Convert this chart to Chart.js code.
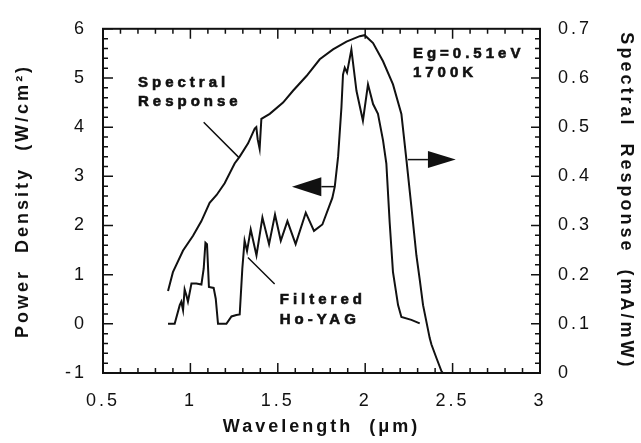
<!DOCTYPE html>
<html>
<head>
<meta charset="utf-8">
<script src="https://cdn.jsdelivr.net/npm/chart.js@4.4.1/dist/chart.umd.min.js"></script>
<style>
  html, body { margin: 0; padding: 0; background: #fff; }
  canvas { display: block; }
</style>
</head>
<body>
<canvas id="plot" width="641" height="443"></canvas>
<script>
const FONT = "'Liberation Sans', Arial, Helvetica, sans-serif";
const INK = "#111";

// axis ticks
const xTicks = [0.5, 1, 1.5, 2, 2.5, 3];
const powerTicks = [-1, 0, 1, 2, 3, 4, 5, 6];
const responseTicks = [0, 0.1, 0.2, 0.3, 0.4, 0.5, 0.6, 0.7];

// filtered Ho-YAG emitter: wavelength (um) / power density (W/cm2)
const hoWavelength = [0.872, 0.91, 0.939, 0.948, 0.958, 0.967, 0.977, 0.986, 1.006, 1.034, 1.063, 1.076, 1.086, 1.095,
  1.106, 1.133, 1.145, 1.158, 1.206, 1.235, 1.263, 1.282, 1.297, 1.31, 1.324, 1.345, 1.378, 1.412, 1.45, 1.484,
  1.517, 1.555, 1.602, 1.66, 1.707, 1.755, 1.812, 1.826, 1.845, 1.864, 1.873, 1.883, 1.896, 1.921, 1.95, 1.987,
  2.016, 2.045, 2.073, 2.102, 2.121, 2.14, 2.159, 2.188, 2.207, 2.264, 2.312];
const hoPower = [0.0, 0.0, 0.38, 0.45, 0.28, 0.70, 0.58, 0.45, 0.82, 0.82, 0.80, 1.12, 1.65, 1.62,
  0.75, 0.73, 0.51, 0.0, 0.0, 0.15, 0.18, 0.19, 1.12, 1.69, 1.48, 1.92, 1.39, 2.16, 1.62, 2.22,
  1.69, 2.09, 1.62, 2.26, 1.89, 2.02, 2.56, 2.79, 3.40, 4.40, 5.07, 5.21, 5.11, 5.58, 4.74, 4.13,
  4.87, 4.47, 4.27, 3.73, 3.26, 2.06, 1.05, 0.38, 0.14, 0.08, 0.01];

// cell spectral response: wavelength (um) / response (mA/mW)
const srWavelength = [0.872, 0.9, 0.958, 1.015, 1.063, 1.11, 1.15, 1.196, 1.253, 1.282, 1.33, 1.368, 1.377, 1.385,
  1.396, 1.406, 1.454, 1.53, 1.587, 1.664, 1.74, 1.816, 1.893, 1.969, 1.997, 2.045, 2.102, 2.159, 2.207, 2.236,
  2.264, 2.293, 2.312, 2.331, 2.369, 2.379, 2.407, 2.436, 2.445, 2.51];
const srResponse = [0.167, 0.205, 0.249, 0.279, 0.309, 0.346, 0.362, 0.386, 0.426, 0.44, 0.467, 0.497, 0.50, 0.475,
  0.456, 0.517, 0.527, 0.55, 0.574, 0.604, 0.638, 0.658, 0.674, 0.685, 0.687, 0.671, 0.634, 0.587, 0.527, 0.433,
  0.339, 0.239, 0.19, 0.138, 0.071, 0.058, 0.031, 0.004, 0.0, 0.0];

const toPoints = (xs, ys) => xs.map((x, i) => ({ x, y: ys[i] }));

// frame, inward ticks, labels and arrows
const decor = {
  id: "decor",
  beforeDraw(chart) {
    chart.ctx.letterSpacing = "3px";
  },
  afterDatasetsDraw(chart) {
    const ctx = chart.ctx;
    const { left, top, right, bottom } = chart.chartArea;
    const sx = chart.scales.x, sy = chart.scales.y, sr = chart.scales.y1;
    const X = (v) => sx.getPixelForValue(v);
    const Y = (v) => sy.getPixelForValue(v);

    ctx.save();
    ctx.strokeStyle = INK;
    ctx.fillStyle = INK;
    ctx.lineWidth = 2;
    ctx.strokeRect(left, top, right - left, bottom - top);

    ctx.lineWidth = 1.5;
    ctx.beginPath();
    for (let i = 0; i <= 25; i++) {
      const p = X(0.5 + i * 0.1);
      const len = i % 5 === 0 ? 10 : 5;
      ctx.moveTo(p, bottom); ctx.lineTo(p, bottom - len);
      ctx.moveTo(p, top); ctx.lineTo(p, top + len);
    }
    for (let i = 0; i <= 35; i++) {
      const p = Y(-1 + i * 0.2);
      const len = i % 5 === 0 ? 10 : 5;
      ctx.moveTo(left, p); ctx.lineTo(left + len, p);
    }
    for (let i = 0; i <= 35; i++) {
      const p = sr.getPixelForValue(i * 0.02);
      const len = i % 5 === 0 ? 9 : 5;
      ctx.moveTo(right, p); ctx.lineTo(right - len, p);
    }
    ctx.stroke();

    // leader lines
    ctx.beginPath();
    ctx.moveTo(X(1.076), Y(4.10)); ctx.lineTo(X(1.278), Y(3.38));
    ctx.moveTo(X(1.329), Y(1.35)); ctx.lineTo(X(1.482), Y(0.81));
    ctx.stroke();

    // axis arrows
    const arrow = (x0, xBase, xTip, yv, half) => {
      const yp = Y(yv);
      ctx.beginPath();
      ctx.moveTo(X(x0), yp); ctx.lineTo(X(xBase), yp);
      ctx.stroke();
      ctx.beginPath();
      ctx.moveTo(X(xBase), yp - half);
      ctx.lineTo(X(xTip), yp);
      ctx.lineTo(X(xBase), yp + half);
      ctx.closePath();
      ctx.fill();
    };
    arrow(1.826, 1.749, 1.581, 2.79, 9.5);
    arrow(2.245, 2.359, 2.518, 3.34, 8.5);

    // text labels, lightly stroked for a heavier bold
    ctx.font = "bold 15px " + FONT;
    ctx.letterSpacing = "4px";
    ctx.textAlign = "left";
    ctx.textBaseline = "middle";
    ctx.lineWidth = 0.6;
    const label = (s, x, y) => {
      ctx.fillText(s, X(x), Y(y));
      ctx.strokeText(s, X(x), Y(y));
    };
    label("Spectral", 0.70, 4.91);
    label("Response", 0.70, 4.51);
    label("Eg=0.51eV", 2.273, 5.50);
    label("1700K", 2.273, 5.11);
    label("Filtered", 1.511, 0.48);
    label("Ho-YAG", 1.511, 0.08);
    ctx.restore();
  }
};

const tickFont = { family: FONT, size: 18 };
const titleFont = { family: FONT, size: 18, weight: "bold" };

new Chart(document.getElementById("plot"), {
  type: "scatter",
  data: {
    datasets: [
      {
        label: "Filtered Ho-YAG",
        data: toPoints(hoWavelength, hoPower),
        yAxisID: "y",
        showLine: true,
        borderColor: INK,
        borderWidth: 2,
        pointRadius: 0,
        tension: 0
      },
      {
        label: "Spectral Response",
        data: toPoints(srWavelength, srResponse),
        yAxisID: "y1",
        showLine: true,
        borderColor: INK,
        borderWidth: 2,
        pointRadius: 0,
        tension: 0
      }
    ]
  },
  options: {
    responsive: false,
    animation: false,
    layout: { padding: { top: 24, left: 0, right: 0, bottom: 0 } },
    plugins: { legend: { display: false }, tooltip: { enabled: false } },
    scales: {
      x: {
        type: "linear",
        min: 0.5,
        max: 3,
        grid: { display: false, drawTicks: false },
        border: { display: false },
        afterBuildTicks: (s) => { s.ticks = xTicks.map((v) => ({ value: v })); },
        afterFit: (s) => { s.height = 70; },
        ticks: { color: INK, font: tickFont, padding: 17, maxRotation: 0, autoSkip: false, callback: (v) => String(v) },
        title: { display: true, text: "Wavelength  (\u03bcm)", color: INK, font: titleFont, padding: { top: 0, bottom: 5 } }
      },
      y: {
        position: "left",
        min: -1,
        max: 6,
        grid: { display: false, drawTicks: false },
        border: { display: false },
        afterBuildTicks: (s) => { s.ticks = powerTicks.map((v) => ({ value: v })); },
        afterFit: (s) => { s.width = 103; },
        ticks: { color: INK, font: tickFont, padding: 16, autoSkip: false, callback: (v) => String(v) },
        title: { display: true, text: "Power  Density  (W/cm\u00b2)", color: INK, font: titleFont, padding: { top: 12, bottom: 0 } }
      },
      y1: {
        position: "right",
        min: 0,
        max: 0.7,
        grid: { display: false, drawTicks: false },
        border: { display: false },
        afterBuildTicks: (s) => { s.ticks = responseTicks.map((v) => ({ value: v })); },
        afterFit: (s) => { s.width = 101; },
        ticks: { color: INK, font: tickFont, padding: 18, autoSkip: false, callback: (v) => String(v) },
        title: { display: true, text: "Spectral  Response  (mA/mW)", color: INK, font: titleFont, padding: { top: 4, bottom: 0 } }
      }
    }
  },
  plugins: [decor]
});
</script>
</body>
</html>
